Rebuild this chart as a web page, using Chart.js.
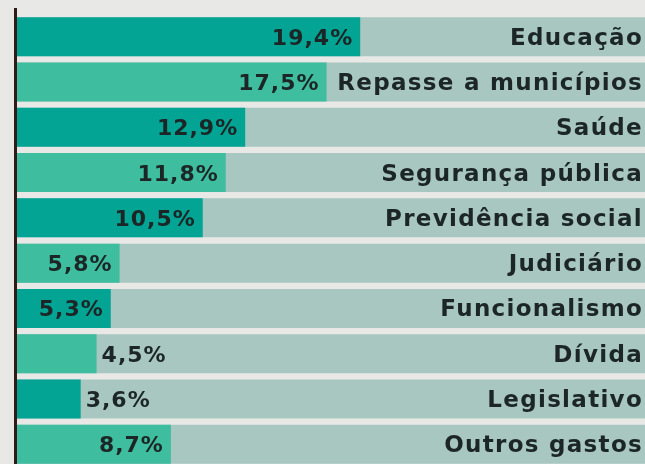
<!DOCTYPE html>
<html lang="pt-BR">
<head>
<meta charset="utf-8">
<script src="https://cdn.jsdelivr.net/npm/chart.js@4/dist/chart.umd.min.js"></script>
<style>
  html, body { margin: 0; padding: 0; overflow: hidden; background: #e8e9e7; }
  #grafico { display: block; }
</style>
</head>
<body>
<canvas id="grafico" width="645" height="467"></canvas>
<script>
// Dados do gráfico
const categorias = ['Educação', 'Repasse a municípios', 'Saúde', 'Segurança pública', 'Previdência social',
  'Judiciário', 'Funcionalismo', 'Dívida', 'Legislativo', 'Outros gastos'];
const percentuais = [19.4, 17.5, 12.9, 11.8, 10.5, 5.8, 5.3, 4.5, 3.6, 8.7];
const rotulos = ['19,4%', '17,5%', '12,9%', '11,8%', '10,5%', '5,8%', '5,3%', '4,5%', '3,6%', '8,7%'];

const EIXO_MAX = 35.5;
const LIMITE_DENTRO = 5; // abaixo disso o rótulo vai para fora da barra

const COR_ESCURA = '#03a494';
const COR_CLARA = '#3ebd9f';
const COR_FUNDO = '#a8c7c0';
const COR_TEXTO = '#1c2626';

// Rótulos e linha do eixo
const pluginRotulos = {
  id: 'rotulos',
  afterDatasetsDraw(chart) {
    const ctx = chart.ctx;
    const area = chart.chartArea;
    const barras = chart.getDatasetMeta(0).data;

    ctx.save();
    // linha vertical do eixo
    ctx.strokeStyle = '#2e1d16';
    ctx.lineWidth = 3;
    ctx.beginPath();
    ctx.moveTo(area.left - 1.5, area.top - 6);
    ctx.lineTo(area.left - 1.5, area.bottom);
    ctx.stroke();

    ctx.fillStyle = COR_TEXTO;
    ctx.textBaseline = 'alphabetic';

    barras.forEach((barra, i) => {
      // percentual
      ctx.font = 'bold 22px "DejaVu Sans"';
      ctx.letterSpacing = '1px';
      if (percentuais[i] >= LIMITE_DENTRO) {
        ctx.textAlign = 'right';
        ctx.fillText(rotulos[i], barra.x - 7, barra.y + 8);
      } else {
        ctx.textAlign = 'left';
        ctx.fillText(rotulos[i], barra.x + 5, barra.y + 8);
      }
      // categoria
      ctx.font = 'bold 23px "DejaVu Sans"';
      ctx.letterSpacing = '1.3px';
      ctx.textAlign = 'right';
      ctx.fillText(categorias[i], chart.width - 2, barra.y + 8);
    });
    ctx.restore();
  }
};

new Chart(document.getElementById('grafico'), {
  type: 'bar',
  data: {
    labels: categorias,
    datasets: [
      {
        data: percentuais,
        backgroundColor: percentuais.map((_, i) => i % 2 === 0 ? COR_ESCURA : COR_CLARA)
      },
      {
        data: percentuais.map(() => EIXO_MAX),
        backgroundColor: COR_FUNDO
      }
    ]
  },
  options: {
    indexAxis: 'y',
    responsive: false,
    animation: false,
    grouped: false,
    categoryPercentage: 0.86,
    barPercentage: 1,
    layout: { padding: { left: 17, top: 14, right: 0, bottom: 0 } },
    scales: {
      x: { display: false, min: 0, max: EIXO_MAX },
      y: { display: false }
    },
    plugins: {
      legend: { display: false },
      tooltip: { enabled: false }
    }
  },
  plugins: [pluginRotulos]
});
</script>
</body>
</html>
